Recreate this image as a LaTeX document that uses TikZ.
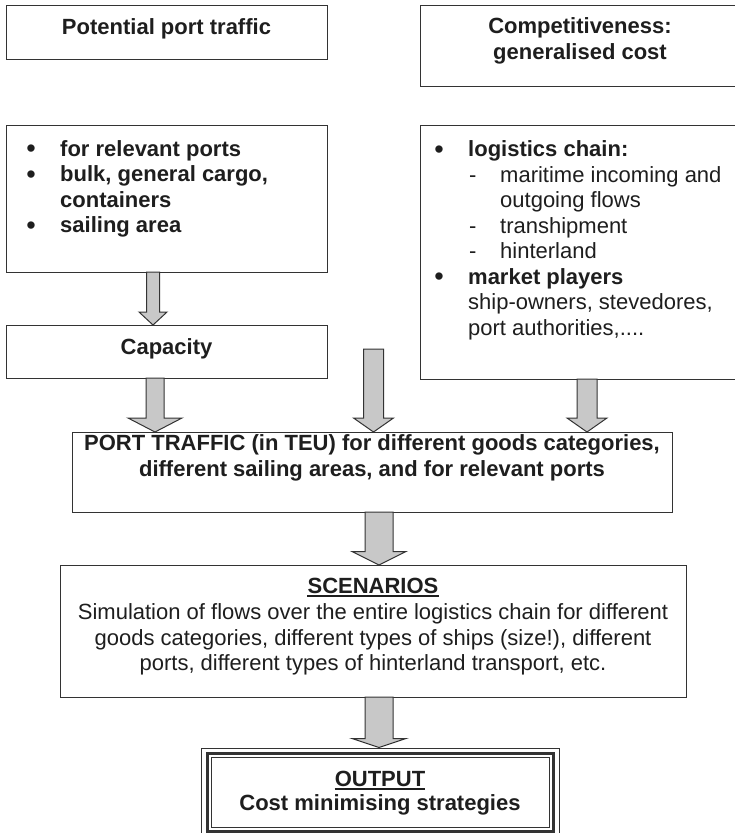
\documentclass[tikz,border=0pt]{standalone}
\usepackage{fontspec}
\setmainfont{Liberation Sans}
\usetikzlibrary{calc}
\definecolor{linecol}{HTML}{333333}
\definecolor{arrfill}{HTML}{C8C8C8}
\definecolor{txtcol}{HTML}{1E1E1E}
\newcommand{\blockarr}[5]{%
  \path[arr] let \p1=#1, \p2=#2 in
    (\x2-#3pt,\y1) -- (\x2-#3pt,\y2+#5pt) -- (\x2-#4pt,\y2+#5pt) -- (\x2,\y2)
    -- (\x2+#4pt,\y2+#5pt) -- (\x2+#3pt,\y2+#5pt) -- (\x2+#3pt,\y1) -- cycle;}
\begin{document}
\begin{tikzpicture}[x=1pt,y=-1pt,
  box/.style={draw=linecol, line width=1.2pt, fill=white, inner sep=0pt, anchor=north west},
  arr/.style={fill=arrfill, draw=linecol, line width=1pt, line join=miter},
  tx/.style={inner sep=0pt, text=txtcol, font=\fontsize{22}{25.5}\selectfont},
  btx/.style={inner sep=0pt, text=txtcol, font=\fontsize{22}{25.5}\selectfont\bfseries},
  bul/.style={inner sep=0pt, text=txtcol, font=\fontsize{27}{27}\selectfont},
  uline/.style={draw=txtcol, line width=1.8pt}]
\useasboundingbox (0,0) rectangle (735,833);
\clip (0,0) rectangle (735,833);

% boxes
\node[box, minimum width=321pt, minimum height=54pt] (A) at (6,5) {};
\node[box, minimum width=330pt, minimum height=81pt] (B) at (420,5) {};
\node[box, minimum width=321pt, minimum height=147pt] (C) at (6,125) {};
\node[box, minimum width=321pt, minimum height=53pt] (D) at (6,325) {};
\node[box, minimum width=330pt, minimum height=254pt] (E) at (420,125) {};
\node[box, minimum width=600pt, minimum height=80pt] (P) at (72,432) {};
\node[box, minimum width=626pt, minimum height=132pt] (S) at (60,565) {};
\node[box, line width=1pt, minimum width=358pt, minimum height=89pt] (O) at (201,747.5) {};
\draw[draw=linecol, line width=2.6pt] ([shift={(6.5,6)}]O.north west) rectangle ([shift={(-6.5,-6)}]O.south east);
\draw[draw=linecol, line width=1pt] ([shift={(10.5,10)}]O.north west) rectangle ([shift={(-10.5,-10)}]O.south east);

% texts
\node[btx, anchor=base] (tA) at (166.5,34) {Potential port traffic};
\node[btx, anchor=base] (tB1) at (580,33) {Competitiveness:};
\node[btx, anchor=base] (tB2) at (580,59) {generalised cost};

\node[bul, anchor=base] (bC1) at (31,157.5) {•};
\node[btx, anchor=base west] (tC1) at (60,156) {for relevant ports};
\node[bul, anchor=base] (bC2) at (31,183) {•};
\node[btx, anchor=base west] (tC2) at (60,181.5) {bulk, general cargo,};
\node[btx, anchor=base west] (tC3) at (60,207) {containers};
\node[bul, anchor=base] (bC3) at (31,234) {•};
\node[btx, anchor=base west] (tC4) at (60,232.5) {sailing area};

\node[btx, anchor=base] (tD) at (166.5,354) {Capacity};

\node[bul, anchor=base] (bE1) at (439,158) {•};
\node[btx, anchor=base west] (tE1) at (468,156.5) {logistics chain:};
\node[tx, anchor=base west] (dE1) at (469,182) {-};
\node[tx, anchor=base west] (tE2) at (500,182) {maritime incoming and};
\node[tx, anchor=base west] (tE3) at (500,207.5) {outgoing flows};
\node[tx, anchor=base west] (dE2) at (469,233) {-};
\node[tx, anchor=base west] (tE4) at (500,233) {transhipment};
\node[tx, anchor=base west] (dE3) at (469,258.5) {-};
\node[tx, anchor=base west] (tE5) at (500,258.5) {hinterland};
\node[bul, anchor=base] (bE2) at (439,285.5) {•};
\node[btx, anchor=base west] (tE6) at (468,284) {market players};
\node[tx, anchor=base west] (tE7) at (468,309.5) {ship-owners, stevedores,};
\node[tx, anchor=base west] (tE8) at (468,335) {port authorities,....};

\node[btx, anchor=base] (tP1) at (372,450) {PORT TRAFFIC (in TEU) for different goods categories,};
\node[btx, anchor=base] (tP2) at (372,476.5) {different sailing areas, and for relevant ports};

\node[btx, anchor=base] (tS0) at (373,593.3) {SCENARIOS};
\draw[uline] ([yshift=-2.6pt]tS0.base west) -- ([yshift=-2.6pt]tS0.base east);
\node[tx, anchor=base] (tS1) at (373,619.3) {Simulation of flows over the entire logistics chain for different};
\node[tx, anchor=base] (tS2) at (373,645) {goods categories, different types of ships (size!), different};
\node[tx, anchor=base] (tS3) at (373,670.5) {ports, different types of hinterland transport, etc.};

\node[btx, anchor=base] (tO1) at (380,786.7) {OUTPUT};
\draw[uline] ([yshift=-2.6pt]tO1.base west) -- ([yshift=-2.6pt]tO1.base east);
\node[btx, anchor=base] (tO2) at (380,810.7) {Cost minimising strategies};

% arrow coordinates
\coordinate (a1s) at (153,272);  \coordinate (a1t) at (153,325);
\coordinate (a2s) at (155,378);  \coordinate (a2t) at (155,432);
\coordinate (a3s) at (373.5,349); \coordinate (a3t) at (373.5,432);
\coordinate (a4s) at (587,379);  \coordinate (a4t) at (587,432);
\coordinate (a5s) at (379,512);  \coordinate (a5t) at (379,565);
\coordinate (a6s) at (379,697);  \coordinate (a6t) at (379,747.5);

\blockarr{(a1s)}{(a1t)}{6.5}{14}{13}
\blockarr{(a2s)}{(a2t)}{9}{27}{14}
\blockarr{(a3s)}{(a3t)}{10}{20}{14}
\blockarr{(a4s)}{(a4t)}{10}{20}{14}
\blockarr{(a5s)}{(a5t)}{14}{27}{13.5}
\blockarr{(a6s)}{(a6t)}{14}{27}{9}
\end{tikzpicture}
\end{document}
